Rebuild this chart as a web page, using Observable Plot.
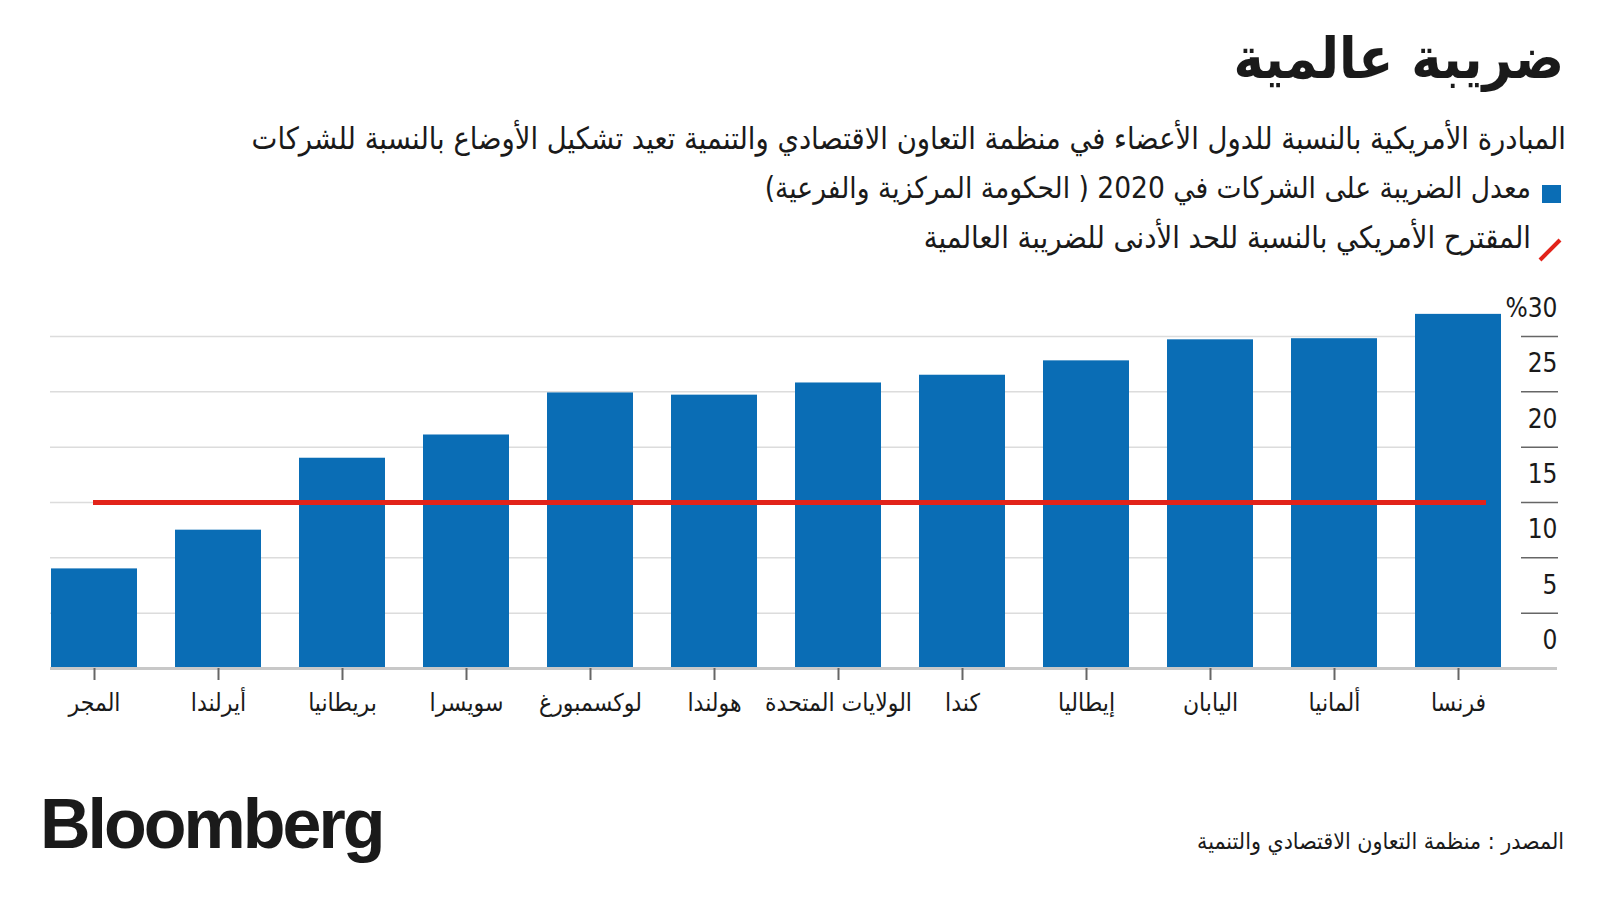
<!DOCTYPE html>
<html><head><meta charset="utf-8">
<script src="https://cdn.jsdelivr.net/npm/d3@7"></script>
<script src="https://cdn.jsdelivr.net/npm/@observablehq/plot@0.6"></script>
<style>
body{margin:0;background:#fff;width:1600px;height:900px;position:relative;overflow:hidden;font-family:"DejaVu Sans Condensed","DejaVu Sans",sans-serif;color:#1a1a1a}
.ar{direction:rtl;position:absolute;white-space:nowrap;line-height:1;}
#title{right:36px;top:30px;font-size:57px;font-weight:bold;}
#subtitle{right:34px;top:124px;font-size:30.5px;}
#leg1{right:69px;top:174px;font-size:29.5px;}
#leg2{right:69px;top:223px;font-size:30.6px;}
#sw1{position:absolute;left:1542px;top:185px;width:19px;height:18px;background:#0a6db5;}
#sw2{position:absolute;left:1536px;top:236px;}
#source{right:36px;top:830px;font-size:23px;}
#logo{position:absolute;left:40px;top:789px;font-family:"Liberation Sans",Arial,sans-serif;font-weight:bold;font-size:70px;letter-spacing:-3px;line-height:1;color:#1a1a1a;}
#chart{position:absolute;left:0;top:280px;}
</style></head><body>
<div class="ar" id="title">ضريبة عالمية</div>
<div class="ar" id="subtitle">المبادرة الأمريكية بالنسبة للدول الأعضاء في منظمة التعاون الاقتصادي والتنمية تعيد تشكيل الأوضاع بالنسبة للشركات</div>
<div id="sw1"></div>
<div class="ar" id="leg1">معدل الضريبة على الشركات في 2020  ( الحكومة المركزية والفرعية)</div>
<svg id="sw2" width="28" height="28"><line x1="4" y1="24" x2="24" y2="4" stroke="#e2231a" stroke-width="4"/></svg>
<div class="ar" id="leg2">المقترح الأمريكي بالنسبة للحد الأدنى للضريبة العالمية</div>
<div id="chart"></div>
<div id="logo">Bloomberg</div>
<div class="ar" id="source">المصدر : منظمة التعاون الاقتصادي والتنمية</div>
<script>
const countries = ["المجر","أيرلندا","بريطانيا","سويسرا","لوكسمبورغ","هولندا","الولايات المتحدة","كندا","إيطاليا","اليابان","ألمانيا","فرنسا"];
const rates = [9.0, 12.5, 19.0, 21.1, 24.9, 24.7, 25.8, 26.5, 27.8, 29.7, 29.8, 32.0];
const minimumTax = 15;
const gridTicks = [5, 10, 15, 20, 25, 30];
const labelTicks = [0, 5, 10, 15, 20, 25, 30];
const topLabel = "%30";

const data = countries.map((c, i) => ({country: c, rate: rates[i]}));
const font = '"DejaVu Sans Condensed","DejaVu Sans",sans-serif';

const plot = Plot.plot({
  width: 1600, height: 460,
  marginLeft: 50, marginRight: 99, marginTop: 56, marginBottom: 72,
  x: {domain: countries, paddingInner: 0.31, paddingOuter: 0, label: null},
  y: {domain: [0, 30], label: null},
  style: {fontFamily: font, background: "transparent", color: "#1a1a1a", overflow: "visible"},
  marks: [
    Plot.gridY({ticks: gridTicks, stroke: "#dcdcdc", strokeOpacity: 1, strokeWidth: 1.5}),
    Plot.axisY({ticks: gridTicks, anchor: "right", tickSize: 37, dx: 19, tickFormat: () => "", stroke: "#666", strokeWidth: 1.5, label: null}),
    Plot.axisY({ticks: labelTicks, anchor: "right", tickSize: 0, tickPadding: 0, dx: 56, dy: -27.7, textAnchor: "end",
      tickFormat: d => d === 30 ? topLabel : String(d), fontSize: 26, label: null}),
    Plot.barY(data, {x: "country", y: "rate", fill: "#0a6db5"}),
    Plot.ruleY([0], {stroke: "#c8c8c8", strokeWidth: 3, insetRight: -56}),
    Plot.ruleY([minimumTax], {stroke: "#e2231a", strokeWidth: 5, insetLeft: 43, insetRight: 15}),
    Plot.axisX({tickSize: 12, tickPadding: 13, fontSize: 24.5, stroke: "#666", strokeWidth: 2, label: null})
  ]
});
document.getElementById("chart").appendChild(plot);
</script>
</body></html>
